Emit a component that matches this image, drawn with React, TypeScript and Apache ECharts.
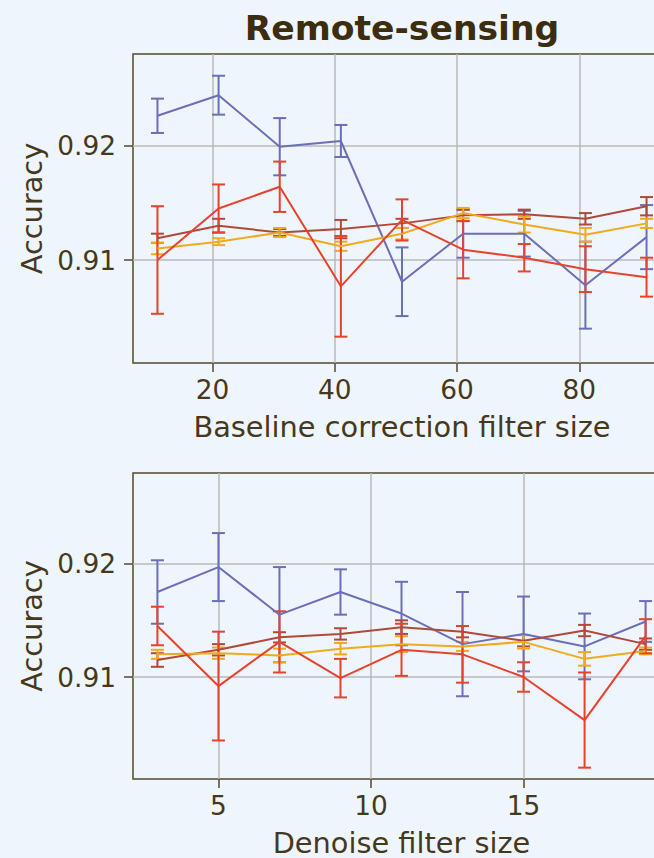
import React, { useEffect, useRef } from "react";
import * as echarts from "echarts";

// ---- data ----
const titleText = "Remote-sensing";
const topXLabel = "Baseline correction filter size";
const botXLabel = "Denoise filter size";
const yLabel = "Accuracy";

const topX = [11, 21, 31, 41, 51, 61, 71, 81, 91];
const botX = [3, 5, 7, 9, 11, 13, 15, 17, 19];

const topXTicks = [20, 40, 60, 80];
const botXTicks = [5, 10, 15];
const yTicks = [0.91, 0.92];

const blueTop = [0.9226, 0.9244, 0.9199, 0.9204, 0.9081, 0.9123, 0.9123, 0.9078, 0.912];
const blueTopErr = [0.0015, 0.0017, 0.0025, 0.0014, 0.003, 0.0021, 0.002, 0.0038, 0.0028];
const redTop = [0.91, 0.9145, 0.9164, 0.9077, 0.9135, 0.9109, 0.9102, 0.9092, 0.9085];
const redTopErr = [0.0047, 0.0021, 0.0022, 0.0044, 0.0018, 0.0025, 0.0012, 0.002, 0.0017];
const brownTop = [0.9119, 0.913, 0.9124, 0.9127, 0.9132, 0.9139, 0.914, 0.9136, 0.9147];
const brownTopErr = [0.0004, 0.0006, 0.0003, 0.0008, 0.0004, 0.0005, 0.0004, 0.0005, 0.0008];
const yellowTop = [0.911, 0.9116, 0.9124, 0.9112, 0.9123, 0.9141, 0.9131, 0.9122, 0.9132];
const yellowTopErr = [0.0005, 0.0003, 0.0004, 0.0004, 0.0005, 0.00045, 0.0007, 0.0006, 0.0004];

const blueBot = [0.9175, 0.9197, 0.9155, 0.9175, 0.9156, 0.9129, 0.9138, 0.9127, 0.9149];
const blueBotErr = [0.0028, 0.003, 0.0042, 0.002, 0.0028, 0.0046, 0.0033, 0.0029, 0.0018];
const redBot = [0.9145, 0.9092, 0.9131, 0.9099, 0.9124, 0.912, 0.91, 0.9062, 0.9136];
const redBotErr = [0.0017, 0.0048, 0.0027, 0.0017, 0.0023, 0.0025, 0.0013, 0.0042, 0.0015];
const brownBot = [0.9115, 0.9124, 0.9135, 0.9138, 0.9144, 0.914, 0.9132, 0.9141, 0.9129];
const brownBotErr = [0.0006, 0.0005, 0.00045, 0.0005, 0.0006, 0.0005, 0.0005, 0.0005, 0.0005];
const yellowBot = [0.912, 0.9121, 0.9119, 0.9125, 0.9129, 0.9127, 0.9131, 0.9116, 0.9123];
const yellowBotErr = [0.0004, 0.0005, 0.0006, 0.0005, 0.0007, 0.0004, 0.0006, 0.0006, 0.0003];

// ---- styles ----
const BG = "#eff5fd";
const TEXT = "#46391b";
const SPINE = "#54472b";
const GRIDC = "#b9b9b9";
const FONT = "DejaVu Sans";
const C_BLUE = "#6a6fb8";
const C_RED = "#e8422c";
const C_BROWN = "#b0493a";
const C_YELLOW = "#f2aa1c";

function makeSeries(idx: number, xs: number[], means: number[], errs: number[], color: string, name: string) {
  const lineData = xs.map((x, i) => [x, means[i]]);
  const errData = xs.map((x, i) => [x, means[i] - errs[i], means[i] + errs[i]]);
  return [
    {
      type: "line",
      name,
      xAxisIndex: idx,
      yAxisIndex: idx,
      data: lineData,
      symbol: "none",
      lineStyle: { color, width: 2 },
      z: 3,
    },
    {
      type: "custom",
      name: name + "-err",
      xAxisIndex: idx,
      yAxisIndex: idx,
      data: errData,
      encode: { x: 0, y: [1, 2] },
      z: 3,
      renderItem: (params: any, api: any) => {
        const x = api.value(0);
        const lo = api.value(1);
        const hi = api.value(2);
        const t = api.coord([x, hi]);
        const b = api.coord([x, lo]);
        const hw = 6.5;
        const st = { stroke: color, lineWidth: 2 };
        return {
          type: "group",
          children: [
            { type: "line", shape: { x1: t[0], y1: t[1], x2: b[0], y2: b[1] }, style: st },
            { type: "line", shape: { x1: t[0] - hw, y1: t[1], x2: t[0] + hw, y2: t[1] }, style: st },
            { type: "line", shape: { x1: b[0] - hw, y1: b[1], x2: b[0] + hw, y2: b[1] }, style: st },
          ],
        };
      },
    },
  ];
}

function xAxisCfg(idx: number, min: number, max: number, ticks: number[], name: string) {
  return {
    type: "value",
    gridIndex: idx,
    min,
    max,
    name,
    nameLocation: "middle",
    nameGap: 49,
    nameTextStyle: { color: TEXT, fontSize: 28.8, fontFamily: FONT },
    axisLine: { show: false },
    axisTick: { show: true, customValues: ticks, length: 9, lineStyle: { color: SPINE, width: 1.5 } },
    axisLabel: {
      show: true,
      customValues: ticks,
      margin: 13,
      color: TEXT,
      fontSize: 26.4,
      fontFamily: FONT,
    },
    splitLine: { show: true, lineStyle: { color: GRIDC, width: 1.5 } },
  };
}

function yAxisCfg(idx: number) {
  return {
    type: "value",
    gridIndex: idx,
    min: 0.901,
    max: 0.928,
    name: yLabel,
    nameLocation: "middle",
    nameGap: 86,
    nameTextStyle: { color: TEXT, fontSize: 28.8, fontFamily: FONT },
    axisLine: { show: false },
    axisTick: { show: true, customValues: yTicks, length: 9, lineStyle: { color: SPINE, width: 1.5 } },
    axisLabel: {
      show: true,
      customValues: yTicks,
      margin: 17,
      color: TEXT,
      fontSize: 26.4,
      fontFamily: FONT,
      formatter: (v: number) => v.toFixed(2),
    },
    splitLine: { show: true, lineStyle: { color: GRIDC, width: 1.5 } },
  };
}

export default function App() {
  const ref = useRef<HTMLDivElement>(null);
  useEffect(() => {
    document.body.style.margin = "0";
    document.body.style.background = BG;
    document.body.style.overflow = "hidden";
    document.documentElement.style.overflow = "hidden";
    const chart = echarts.init(ref.current!, null, { renderer: "svg" });
    const option: any = {
      animation: false,
      backgroundColor: BG,
      graphic: [
        {
          type: "text",
          x: 402,
          y: 28,
          style: {
            text: titleText,
            textAlign: "center",
            textVerticalAlign: "middle",
            fill: "#3b2d0e",
            fontSize: 34.6,
            fontWeight: "bold",
            fontFamily: FONT,
          },
        },
      ],
      grid: [
        { left: 133, top: 54, width: 538, height: 309, show: true, borderColor: SPINE, borderWidth: 1.5, backgroundColor: "transparent" },
        { left: 133, top: 473, width: 537, height: 310, show: true, borderColor: SPINE, borderWidth: 1.5, backgroundColor: "transparent" },
      ],
      xAxis: [
        xAxisCfg(0, 7, 95, topXTicks, topXLabel),
        xAxisCfg(1, 2.2, 19.8, botXTicks, botXLabel),
      ],
      yAxis: [yAxisCfg(0), yAxisCfg(1)],
      series: [
        ...makeSeries(0, topX, blueTop, blueTopErr, C_BLUE, "blue"),
        ...makeSeries(0, topX, brownTop, brownTopErr, C_BROWN, "brown"),
        ...makeSeries(0, topX, yellowTop, yellowTopErr, C_YELLOW, "yellow"),
        ...makeSeries(0, topX, redTop, redTopErr, C_RED, "red"),
        ...makeSeries(1, botX, blueBot, blueBotErr, C_BLUE, "blue"),
        ...makeSeries(1, botX, brownBot, brownBotErr, C_BROWN, "brown"),
        ...makeSeries(1, botX, yellowBot, yellowBotErr, C_YELLOW, "yellow"),
        ...makeSeries(1, botX, redBot, redBotErr, C_RED, "red"),
      ],
    };
    chart.setOption(option);
    return () => chart.dispose();
  }, []);
  return <div ref={ref} style={{ width: 690, height: 858 }} />;
}
